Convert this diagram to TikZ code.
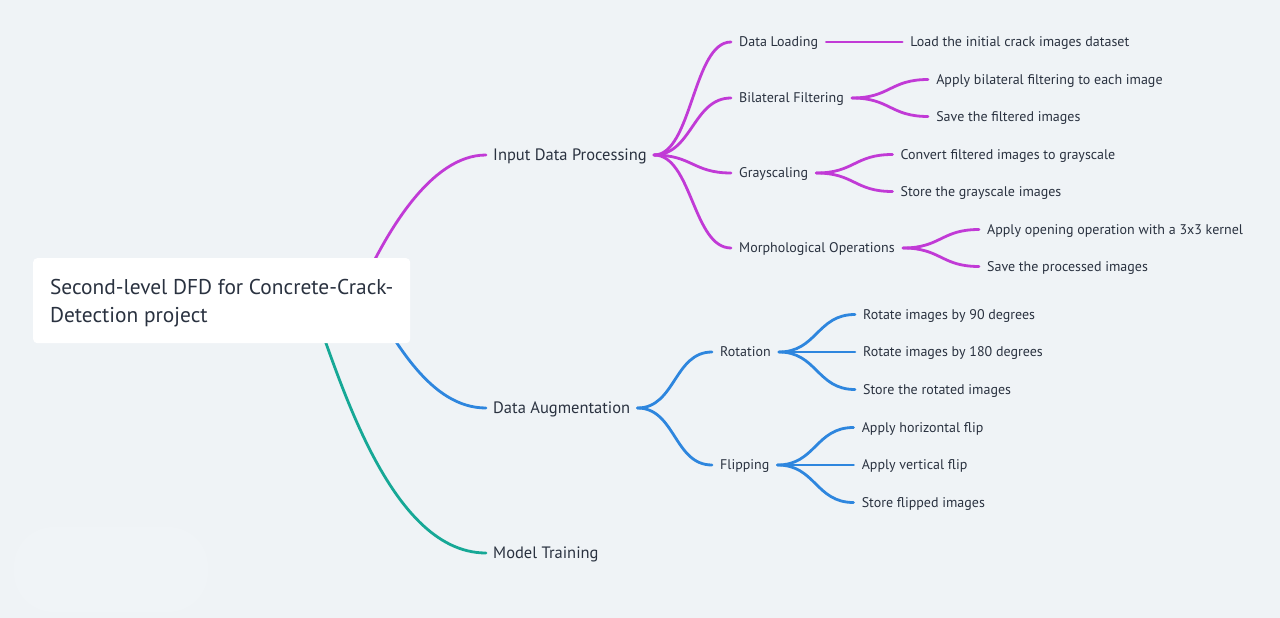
\documentclass[tikz,border=0pt]{standalone}
\usepackage{fontspec}
\setmainfont{PT Sans}
\usetikzlibrary{%
    calc,
    positioning
}
\definecolor{canvas}{RGB}{239,243,246}
\definecolor{ink}{RGB}{42,50,64}
\definecolor{magentabranch}{RGB}{193,58,214}
\definecolor{bluebranch}{RGB}{46,134,222}
\definecolor{tealbranch}{RGB}{22,168,150}
\tikzset{rootbox/.style = {fill=white, rounded corners=4pt, text=ink, align=left,
    font=\fontsize{21.4}{28}\selectfont, inner xsep=16pt, inner ysep=0pt,
    minimum height=85pt, minimum width=377pt, anchor=north west}}
\tikzset{topic/.style = {text=ink, font=\fontsize{16.5}{20}\selectfont,
    inner xsep=7pt, inner ysep=0pt, text height=11.2pt, text depth=0pt, anchor=west}}
\tikzset{subtopic/.style = {text=ink, font=\fontsize{14}{17}\selectfont,
    inner xsep=8pt, inner ysep=0pt, text height=9.5pt, text depth=0pt, anchor=west}}
\tikzset{branch/.style = {line width=2.8pt, line cap=round}}

\begin{document}
\begin{tikzpicture}[x=1pt, y=-1pt]
    % canvas
    \fill[canvas] (0,0) rectangle (1280,618);
    \useasboundingbox (0,0) rectangle (1280,618);
    \fill[white, opacity=0.12, rounded corners=40pt] (14,527) rectangle (208,612);

    % first level
    \node[topic] (IDP) at (486,155) {Input Data Processing};
    \node[topic] (DA)  at (486,408) {Data Augmentation};
    \node[topic] (MT)  at (486,553) {Model Training};

    % second level
    \node[subtopic] (DL) at (731,42)  {Data Loading};
    \node[subtopic] (BF) at (731,98)  {Bilateral Filtering};
    \node[subtopic] (GS) at (731,173) {Grayscaling};
    \node[subtopic] (MO) at (731,248) {Morphological Operations};
    \node[subtopic] (RO) at (712,352) {Rotation};
    \node[subtopic] (FL) at (712,465) {Flipping};

    % leaves
    \node[subtopic] (DL1) [right=76pt of DL] {Load the initial crack images dataset};
    \node[subtopic] (BF1) [right=76pt of BF, yshift=18.5pt]  {Apply bilateral filtering to each image};
    \node[subtopic] (BF2) [right=76pt of BF, yshift=-18.5pt] {Save the filtered images};
    \node[subtopic] (GS1) [right=76pt of GS, yshift=18.5pt]  {Convert filtered images to grayscale};
    \node[subtopic] (GS2) [right=76pt of GS, yshift=-18.5pt] {Store the grayscale images};
    \node[subtopic] (MO1) [right=76pt of MO, yshift=18.5pt]  {Apply opening operation with a 3x3 kernel};
    \node[subtopic] (MO2) [right=76pt of MO, yshift=-18.5pt] {Save the processed images};
    \node[subtopic] (RO1) [right=76pt of RO, yshift=37.5pt]  {Rotate images by 90 degrees};
    \node[subtopic] (RO2) [right=76pt of RO]                 {Rotate images by 180 degrees};
    \node[subtopic] (RO3) [right=76pt of RO, yshift=-37.5pt] {Store the rotated images};
    \node[subtopic] (FL1) [right=76pt of FL, yshift=37.5pt]  {Apply horizontal flip};
    \node[subtopic] (FL2) [right=76pt of FL]                 {Apply vertical flip};
    \node[subtopic] (FL3) [right=76pt of FL, yshift=-37.5pt] {Store flipped images};

    % branch starts, hidden behind the root box
    \coordinate (root-idp) at (360,290);
    \coordinate (root-da)  at (370,300);
    \coordinate (root-mt)  at (310,300);

    % main branches
    \draw[branch, magentabranch] (root-idp) .. controls +(25,-55) and +(-56,0) .. (IDP.west);
    \draw[branch, bluebranch]    (root-da)  .. controls +(25,40)  and +(-56,0) .. (DA.west);
    \draw[branch, tealbranch]    (root-mt)  .. controls +(25,60)  and +(-101,0) .. (MT.west);

    % sub branches
    \foreach \Source/\Target/\Colour in {%
        IDP/DL/magentabranch,
        IDP/BF/magentabranch,
        IDP/GS/magentabranch,
        IDP/MO/magentabranch,
        DL/DL1/magentabranch,
        BF/BF1/magentabranch,
        BF/BF2/magentabranch,
        GS/GS1/magentabranch,
        GS/GS2/magentabranch,
        MO/MO1/magentabranch,
        MO/MO2/magentabranch,
        DA/RO/bluebranch,
        DA/FL/bluebranch,
        RO/RO1/bluebranch,
        RO/RO2/bluebranch,
        RO/RO3/bluebranch,
        FL/FL1/bluebranch,
        FL/FL2/bluebranch,
        FL/FL3/bluebranch%
        }
        \draw[branch, \Colour] (\Source.east) .. controls +(38,0) and +(-38,0) .. (\Target.west);

    % root
    \node[rootbox] (root) at (33,258) {\rule{0pt}{21pt}Second-level DFD for Concrete-Crack-\\Detection project};
\end{tikzpicture}
\end{document}
